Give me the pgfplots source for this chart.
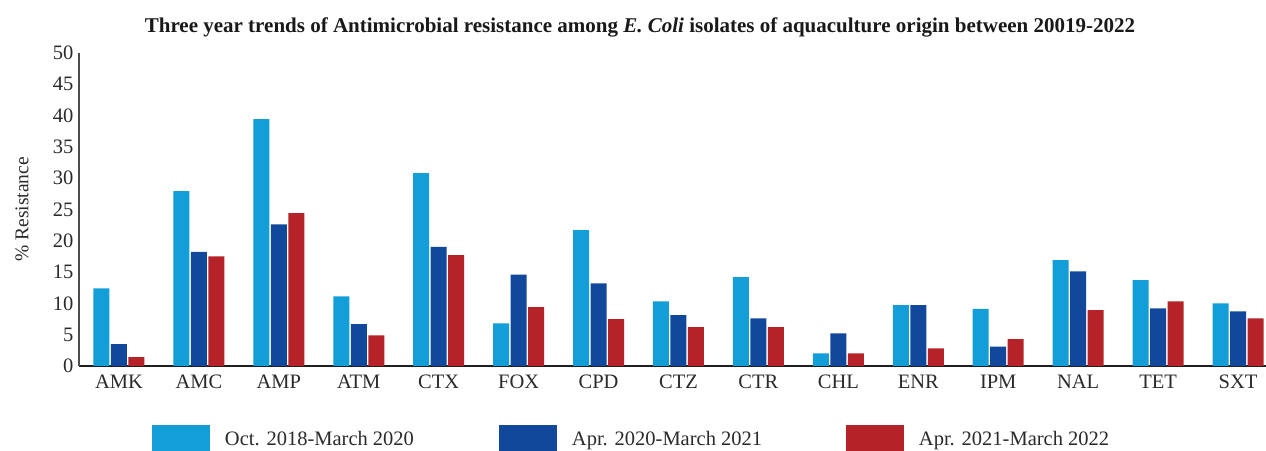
\documentclass[border=0pt]{standalone}
\usepackage{fontspec}
\setmainfont{Liberation Serif}
\usepackage{pgfplots}
\pgfplotsset{compat=1.18}
\definecolor{cA}{HTML}{139ED8}
\definecolor{cB}{HTML}{12489C}
\definecolor{cC}{HTML}{B52328}
\definecolor{txt}{HTML}{2A2A2A}
\begin{document}
\begin{tikzpicture}
\begin{axis}[
  scale only axis, width=1187pt, height=313.3pt,
  xmin=-0.5, xmax=14.35, ymin=0, ymax=50,
  ybar=1.5pt, bar width=16pt,
  ytick={0,5,...,50},
  xtick={0,...,14},
  xticklabels={AMK,AMC,AMP,ATM,CTX,FOX,CPD,CTZ,CTR,CHL,ENR,IPM,NAL,TET,SXT},
  axis x line*=bottom, axis y line*=left,
  axis line style={-, line width=1.3pt},
  x axis line style={black!88},
  y axis line style={black!70},
  major tick length=0pt,
  /pgf/number format/assume math mode=true,
  ticklabel style={font=\fontsize{20.5}{20.5}\selectfont, text=txt},
  yticklabel style={xshift=-2pt},
  xticklabel style={text height=15pt, text depth=0pt, yshift=-4pt},
  ylabel={\% Resistance},
  every axis y label/.style={at={(rel axis cs:-0.048,0.5)}, rotate=90, anchor=center, font=\fontsize{19.5}{19.5}\selectfont, text=txt},
  title={\textbf{Three year trends of Antimicrobial resistance among \textit{E. Coli} isolates of aquaculture origin between 20019-2022}},
  every axis title/.style={at={(rel axis cs:0.4726,1.081)}, anchor=center, font=\fontsize{21}{21}\selectfont, text=black!90},
  legend columns=3,
  legend style={at={(rel axis cs:0.0615,-0.1883)}, anchor=north west, draw=none, fill=none, inner sep=0pt, outer sep=0pt,
    font=\fontsize{20.5}{20.5}\selectfont, text=txt,
    nodes={inner ysep=0.5pt},
    /tikz/every odd column/.style={column sep=13pt}},
  legend image code/.code={\fill[#1] (0pt,-17pt) rectangle (58pt,14pt);},
]
\addplot[fill=cA, draw=none] coordinates {(0,12.4) (1,27.9) (2,39.4) (3,11.1) (4,30.8) (5,6.8) (6,21.7) (7,10.3) (8,14.2) (9,2.0) (10,9.7) (11,9.1) (12,16.9) (13,13.7) (14,10.0)};
\addplot[fill=cB, draw=none] coordinates {(0,3.5) (1,18.2) (2,22.6) (3,6.7) (4,19.0) (5,14.6) (6,13.2) (7,8.1) (8,7.6) (9,5.2) (10,9.7) (11,3.1) (12,15.1) (13,9.2) (14,8.7)};
\addplot[fill=cC, draw=none] coordinates {(0,1.4) (1,17.5) (2,24.4) (3,4.9) (4,17.7) (5,9.4) (6,7.5) (7,6.2) (8,6.2) (9,2.0) (10,2.8) (11,4.3) (12,8.9) (13,10.3) (14,7.6)};
\addlegendentry{\makebox[272pt][l]{Oct. 2018-March 2020}}
\addlegendentry{\makebox[272pt][l]{Apr. 2020-March 2021}}
\addlegendentry{Apr. 2021-March 2022}
\coordinate (bbsw) at (rel axis cs:-0.06655,-0.2713);
\coordinate (bbne) at (rel axis cs:1,1.1682);
\end{axis}
\pgfresetboundingbox
\useasboundingbox (bbsw) rectangle (bbne);
\end{tikzpicture}
\end{document}
